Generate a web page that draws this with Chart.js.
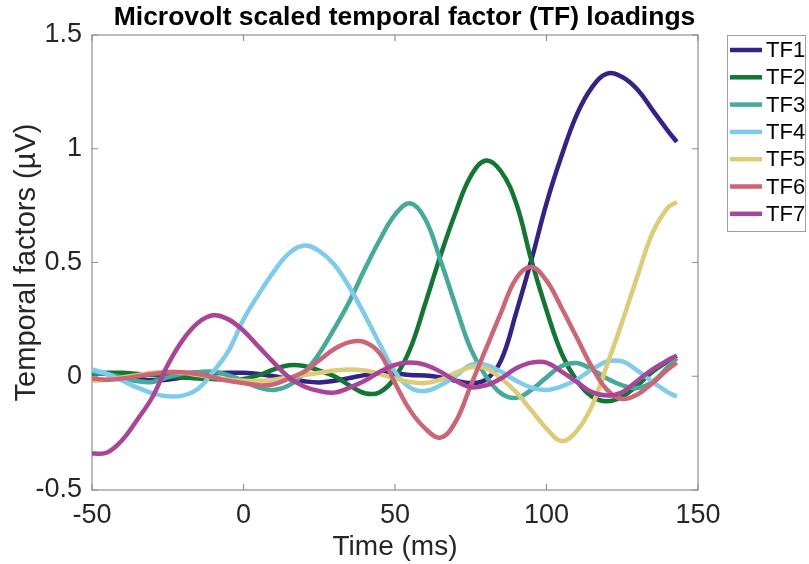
<!DOCTYPE html>
<html>
<head>
<meta charset="utf-8">
<script src="https://cdn.jsdelivr.net/npm/chart.js@4.4.1/dist/chart.umd.min.js"></script>
<style>
  html, body { margin: 0; padding: 0; background: #fff; }
  #wrap { width: 809px; height: 564px; }
</style>
</head>
<body>
<div id="wrap"><canvas id="tfChart" width="809" height="564"></canvas></div>
<script>
// Time axis (ms) and the seven temporal factor loadings (µV)
const times = [-50, -45, -40, -35, -30, -25, -20, -15, -10, -5,
    0, 5, 10, 15, 20, 25, 30, 35, 40, 45,
    50, 55, 60, 65, 70, 75, 80, 85, 90, 95,
    100, 105, 110, 115, 120, 125, 130, 135, 140, 143];

const tf1 = [0.015, 0.01, 0.0, -0.01, -0.018, -0.015, -0.005, 0.005, 0.012, 0.015,
    0.015, 0.01, 0.0, -0.012, -0.022, -0.027, -0.02, -0.008, 0.005, 0.012,
    0.013, 0.005, 0.003, -0.005, -0.02, -0.03, -0.015, 0.07, 0.28, 0.51,
    0.76, 0.97, 1.15, 1.27, 1.33, 1.315, 1.26, 1.17, 1.08, 1.03];
const tf2 = [0.012, 0.015, 0.015, 0.01, 0.005, 0.0, -0.005, -0.01, -0.012, -0.015,
    -0.012, 0.005, 0.03, 0.048, 0.045, 0.025, 0.0, -0.04, -0.075, -0.07,
    -0.005, 0.12, 0.32, 0.53, 0.72, 0.88, 0.948, 0.9, 0.76, 0.51,
    0.29, 0.1, -0.02, -0.09, -0.11, -0.09, -0.04, 0.02, 0.065, 0.09];
const tf3 = [0.02, 0.01, -0.005, -0.022, -0.025, -0.005, 0.012, 0.018, 0.02, 0.005,
    -0.02, -0.05, -0.06, -0.04, 0.015, 0.1, 0.21, 0.33, 0.47, 0.6,
    0.71, 0.76, 0.69, 0.51, 0.31, 0.12, 0.0, -0.075, -0.095, -0.06,
    -0.005, 0.045, 0.058, 0.03, -0.01, -0.04, -0.052, -0.025, 0.04, 0.08];
const tf4 = [0.03, 0.01, -0.02, -0.05, -0.075, -0.088, -0.085, -0.055, 0.02, 0.11,
    0.25, 0.36, 0.46, 0.54, 0.575, 0.55, 0.49, 0.39, 0.27, 0.14,
    0.02, -0.05, -0.065, -0.04, 0.0, 0.05, 0.05, 0.02, -0.02, -0.05,
    -0.06, -0.045, -0.015, 0.03, 0.065, 0.065, 0.025, -0.025, -0.07, -0.09];
const tf5 = [-0.02, -0.015, -0.005, 0.005, 0.015, 0.02, 0.015, 0.005, -0.005, -0.015,
    -0.02, -0.02, -0.015, -0.005, 0.005, 0.015, 0.025, 0.03, 0.025, 0.01,
    -0.01, -0.025, -0.03, -0.015, 0.015, 0.04, 0.035, -0.01, -0.07, -0.15,
    -0.23, -0.285, -0.24, -0.13, 0.05, 0.24, 0.44, 0.63, 0.74, 0.765];
const tf6 = [-0.01, -0.015, -0.01, 0.0, 0.01, 0.018, 0.018, 0.01, -0.005, -0.02,
    -0.03, -0.04, -0.035, -0.01, 0.02, 0.07, 0.12, 0.15, 0.15, 0.1,
    -0.03, -0.15, -0.23, -0.27, -0.2, -0.04, 0.12, 0.28, 0.43, 0.48,
    0.42, 0.3, 0.17, 0.04, -0.06, -0.1, -0.08, -0.03, 0.03, 0.06];
const tf7 = [-0.34, -0.335, -0.28, -0.19, -0.09, 0.05, 0.16, 0.235, 0.268, 0.25,
    0.2, 0.13, 0.06, -0.005, -0.045, -0.065, -0.072, -0.05, -0.02, 0.02,
    0.05, 0.06, 0.05, 0.02, -0.02, -0.048, -0.04, -0.01, 0.035, 0.06,
    0.06, 0.02, -0.025, -0.07, -0.085, -0.07, -0.02, 0.03, 0.07, 0.09];

const seriesNames = ['TF1', 'TF2', 'TF3', 'TF4', 'TF5', 'TF6', 'TF7'];
const seriesValues = [tf1, tf2, tf3, tf4, tf5, tf6, tf7];
const seriesColors = ['#332288', '#117733', '#44AA99', '#7FCBEE', '#DDCC77', '#CC6677', '#AA4499'];

const xTicks = [-50, 0, 50, 100, 150];
const yTicks = [-0.5, 0, 0.5, 1, 1.5];

const FONT = '"Liberation Sans", Arial, Helvetica, sans-serif';
const AXIS_GREY = '#8f8f8f';

// MATLAB style box with inward ticks on all four sides
const boxFrame = {
    id: 'boxFrame',
    beforeDatasetsDraw(chart) {
        const {ctx, chartArea: a, scales: {x, y}} = chart;
        const len = 6;
        ctx.save();
        ctx.strokeStyle = AXIS_GREY;
        ctx.lineWidth = 1.2;
        ctx.strokeRect(a.left, a.top, a.right - a.left, a.bottom - a.top);
        ctx.beginPath();
        xTicks.forEach(v => {
            const px = x.getPixelForValue(v);
            ctx.moveTo(px, a.bottom); ctx.lineTo(px, a.bottom - len);
            ctx.moveTo(px, a.top); ctx.lineTo(px, a.top + len);
        });
        yTicks.forEach(v => {
            const py = y.getPixelForValue(v);
            ctx.moveTo(a.left, py); ctx.lineTo(a.left + len, py);
            ctx.moveTo(a.right, py); ctx.lineTo(a.right - len, py);
        });
        ctx.stroke();
        ctx.restore();
    }
};

// legend in a bordered box to the right of the axes
const boxLegend = {
    id: 'boxLegend',
    afterDraw(chart) {
        const {ctx, chartArea: a} = chart;
        const left = a.right + 29, top = a.top, w = 78, h = 196;
        const rowH = 27.3;
        ctx.save();
        ctx.fillStyle = '#fff';
        ctx.fillRect(left, top, w, h);
        ctx.strokeStyle = '#a0a0a0';
        ctx.lineWidth = 1;
        ctx.strokeRect(left + 0.5, top + 0.5, w, h);
        ctx.font = '22px ' + FONT;
        ctx.textBaseline = 'middle';
        chart.data.datasets.forEach((ds, i) => {
            const yy = top + 15 + i * rowH;
            ctx.strokeStyle = ds.borderColor;
            ctx.lineWidth = 4.5;
            ctx.beginPath();
            ctx.moveTo(left + 3, yy);
            ctx.lineTo(left + 35, yy);
            ctx.stroke();
            ctx.fillStyle = '#000';
            ctx.fillText(ds.label, left + 39, yy + 1);
        });
        ctx.restore();
    }
};

const datasets = seriesNames.map((name, i) => ({
    label: name,
    data: times.map((t, k) => ({x: t, y: seriesValues[i][k]})),
    borderColor: seriesColors[i],
    backgroundColor: seriesColors[i],
    borderWidth: 4.5,
    pointRadius: 0,
    tension: 0.4,
    fill: false,
    order: seriesNames.length - i
}));

new Chart(document.getElementById('tfChart'), {
    type: 'line',
    data: {datasets},
    options: {
        responsive: false,
        animation: false,
        layout: {padding: 0},
        plugins: {
            legend: {display: false},
            tooltip: {enabled: false},
            title: {
                display: true,
                text: 'Microvolt scaled temporal factor (TF) loadings',
                color: '#000',
                font: {family: FONT, size: 26.5, weight: 'bold'},
                padding: {top: 2, bottom: 1.2}
            }
        },
        scales: {
            x: {
                type: 'linear',
                min: -50,
                max: 150,
                afterBuildTicks: s => { s.ticks = xTicks.map(v => ({value: v})); },
                afterFit: s => { s.height = 74; },
                grid: {display: false, drawTicks: false, tickLength: 0},
                border: {display: false},
                ticks: {color: '#262626', font: {family: FONT, size: 27}, padding: 9, maxRotation: 0},
                title: {display: true, text: 'Time (ms)', color: '#262626',
                        font: {family: FONT, size: 28}, padding: {top: 1, bottom: 0}}
            },
            y: {
                type: 'linear',
                min: -0.5,
                max: 1.5,
                afterBuildTicks: s => { s.ticks = yTicks.map(v => ({value: v})); },
                afterFit: s => { s.width = 92; },
                grid: {display: false, drawTicks: false, tickLength: 0},
                border: {display: false},
                ticks: {color: '#262626', font: {family: FONT, size: 27}, padding: 10,
                        callback: v => String(v)},
                title: {display: true, text: 'Temporal factors (µV)', color: '#262626',
                        font: {family: FONT, size: 29}, padding: {top: 10, bottom: 0}}
            },
            // empty right-hand band that holds the legend box
            side: {
                type: 'linear',
                position: 'right',
                afterFit: s => { s.width = 111; },
                grid: {display: false, drawTicks: false},
                border: {display: false},
                ticks: {display: false}
            }
        }
    },
    plugins: [boxFrame, boxLegend]
});
</script>
</body>
</html>
